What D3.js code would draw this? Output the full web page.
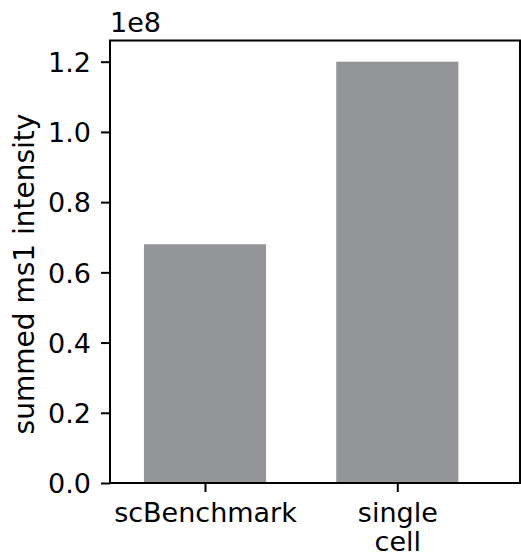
<!DOCTYPE html>
<html><head><meta charset="utf-8">
<script src="https://cdn.jsdelivr.net/npm/d3@7"></script>
<style>body{margin:0;background:#fff}svg{display:block}text{font-family:"DejaVu Sans",sans-serif;fill:#000}</style>
</head><body><svg id="c" width="521" height="555"></svg>
<script>
const categories = [["scBenchmark"], ["single", "cell"]];
const values = [0.68e8, 1.20e8];
const yTicks = [0, 0.2e8, 0.4e8, 0.6e8, 0.8e8, 1.0e8, 1.2e8];
const yTickLabels = ["0.0", "0.2", "0.4", "0.6", "0.8", "1.0", "1.2"];
const yLabel = "summed ms1 intensity";
const offsetText = "1e8";

const svg = d3.select("#c");
const L = 110, R = 520, T = 40.5, B = 483;
const fs = 27;
const x = d3.scaleLinear().domain([0, 1]).range([205, 397.3]);
const barW = 0.635;
const y = d3.scaleLinear().domain([0, 1.2e8]).range([B, 61.7]);

svg.selectAll("rect.bar").data(values).enter().append("rect")
  .attr("class", "bar")
  .attr("x", (d, i) => x(i - barW / 2))
  .attr("width", (d, i) => x(i + barW / 2) - x(i - barW / 2))
  .attr("y", d => y(d))
  .attr("height", d => y(0) - y(d))
  .attr("fill", "#939598");

// y axis
const ya = svg.append("g").attr("transform", `translate(${L},0)`)
  .call(d3.axisLeft(y).tickValues(yTicks).tickFormat((d, i) => yTickLabels[i]).tickSize(9).tickPadding(10));
ya.select(".domain").remove();
ya.selectAll(".tick line").attr("stroke", "#000").attr("stroke-width", 2);
ya.selectAll(".tick text").attr("font-size", fs).attr("font-family", "DejaVu Sans").attr("dy", "0.36em");

// x axis
const xa = svg.append("g").attr("transform", `translate(0,${B})`)
  .call(d3.axisBottom(x).tickValues([0, 1]).tickFormat("").tickSize(9));
xa.select(".domain").remove();
xa.selectAll(".tick line").attr("stroke", "#000").attr("stroke-width", 2);
xa.selectAll(".tick").each(function(d, i) {
  const t = d3.select(this).append("text").attr("text-anchor", "middle")
    .attr("font-size", fs).attr("font-family", "DejaVu Sans");
  categories[i].forEach((s, j) => {
    t.append("tspan").attr("x", 0).attr("y", 39 + j * 28.5).text(s);
  });
});

// frame
svg.append("rect").attr("x", L).attr("y", T).attr("width", R - L).attr("height", B - T)
  .attr("fill", "none").attr("stroke", "#000").attr("stroke-width", 2);

svg.append("text").attr("x", 110).attr("y", 32).attr("font-size", fs).text(offsetText);

svg.append("text").attr("transform", `translate(34,274) rotate(-90)`)
  .attr("text-anchor", "middle").attr("font-size", 28).text(yLabel);
</script></body></html>
